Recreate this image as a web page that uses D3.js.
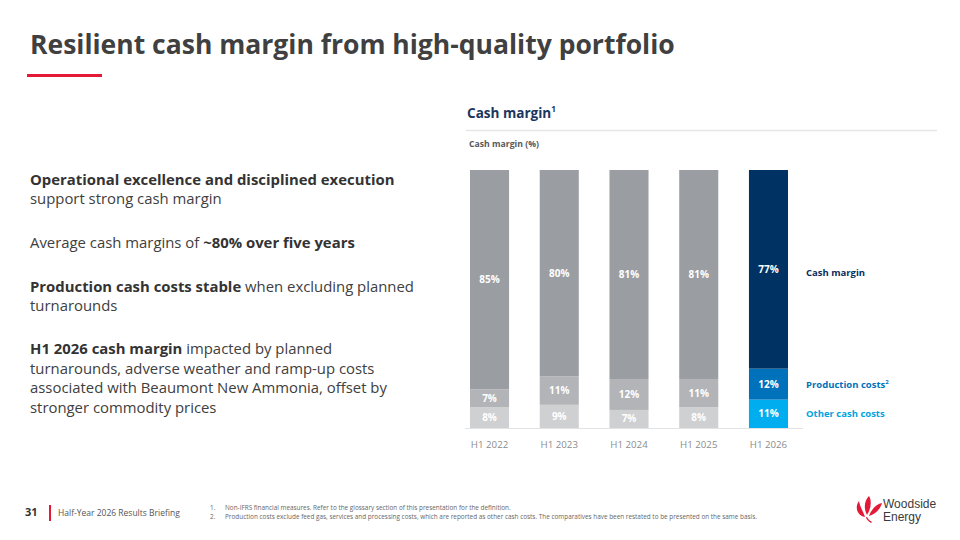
<!DOCTYPE html>
<html><head><meta charset="utf-8">
<script src="https://cdn.jsdelivr.net/npm/d3@7"></script>
<style>
html,body{margin:0;padding:0;background:#fff;}
svg{display:block;font-family:"Open Sans","Noto Sans",sans-serif;}
</style></head>
<body>
<svg id="c" width="960" height="540"></svg>
<script>
// ---- data ----
const categories = ["H1 2022","H1 2023","H1 2024","H1 2025","H1 2026"];
const cashMargin = [85,80,81,81,77];
const productionCosts = [7,11,12,11,12];
const otherCashCosts = [8,9,7,8,11];
const seriesNames = ["Other cash costs","Production costs","Cash margin"];
const greyColors = ["#cfd0d2","#b2b4b7","#9a9da1"];
const highlightColors = ["#00adee","#0071bb","#003263"];
const highlightCategory = "H1 2026";

const svg = d3.select("#c");

function fitText(sel, target){
  sel.each(function(){
    const w = this.getComputedTextLength();
    if(w>0){
      const x = +this.getAttribute("x") || 0;
      const k = target / w;
      this.setAttribute("transform", `translate(${x},0) scale(${k},1) translate(${-x},0)`);
    }
  });
}
function fitSize(sel, target){
  sel.each(function(){
    const w = this.getComputedTextLength();
    const fs = parseFloat(this.getAttribute("font-size"));
    if(w>0) this.setAttribute("font-size", fs*target/w);
  });
}

// ---- title ----
svg.append("text").attr("x",30).attr("y",54)
  .attr("font-size",27).attr("font-weight",700).attr("fill","#404040")
  .text("Resilient cash margin from high-quality portfolio")
  .call(fitText, 645);
svg.append("rect").attr("x",27).attr("y",74).attr("width",75).attr("height",3).attr("fill","#e31937");

// ---- left text ----
const probeB = svg.append("text").attr("font-size",17).attr("font-weight",700).text("Operational excellence and disciplined execution");
const probeR = svg.append("text").attr("font-size",17).attr("font-weight",400).text("associated with Beaumont New Ammonia, offset by");
const bodySize = 0.5*(17*362/probeB.node().getComputedTextLength() + 17*360/probeR.node().getComputedTextLength());
probeB.remove(); probeR.remove();

const paragraphs = [
  [{y:185, parts:[["Operational excellence and disciplined execution",true]]},
   {y:204, parts:[["support strong cash margin",false]]}],
  [{y:248, parts:[["Average cash margins of ",false],["~80% over five years",true]]}],
  [{y:292, parts:[["Production cash costs stable",true],[" when excluding planned",false]]},
   {y:311, parts:[["turnarounds",false]]}],
  [{y:354, parts:[["H1 2026 cash margin",true],[" impacted by planned",false]]},
   {y:374, parts:[["turnarounds, adverse weather and ramp-up costs",false]]},
   {y:393, parts:[["associated with Beaumont New Ammonia, offset by",false]]},
   {y:413, parts:[["stronger commodity prices",false]]}]
];
paragraphs.forEach(p=>{
  const t = svg.append("text").attr("font-size",bodySize).attr("fill","#404040");
  p.forEach(l=>{
    const ln = t.append("tspan").attr("x",30).attr("y",l.y);
    l.parts.forEach(pt=>{
      ln.append("tspan").attr("font-weight",pt[1]?700:400).attr("fill",pt[1]?"#333333":"#404040").text(pt[0]);
    });
  });
});

// ---- chart header ----
const hdr = svg.append("text").attr("x",467).attr("y",118).attr("font-size",15).attr("font-weight",700).attr("fill","#1b365d");
hdr.append("tspan").text("Cash margin");
hdr.append("tspan").attr("font-size",9).attr("dy",-6).text("1");
hdr.call(fitText, 89);
svg.append("line").attr("x1",466).attr("x2",937).attr("y1",130.5).attr("y2",130.5).attr("stroke","#e6e6e6").attr("stroke-width",1.5);
svg.append("text").attr("x",469).attr("y",147).attr("font-size",9.5).attr("font-weight",700).attr("fill","#595959")
  .text("Cash margin (%)").call(fitSize, 70);

// ---- chart ----
const x = d3.scaleBand().domain(categories).range([470,788]).paddingInner(0.44).paddingOuter(0);
const y = d3.scaleLinear().domain([0,100]).range([428,170]);

const table = categories.map((c,i)=>({cat:c, "Other cash costs":otherCashCosts[i], "Production costs":productionCosts[i], "Cash margin":cashMargin[i]}));
const stack = d3.stack().keys(seriesNames)(table);

const g = svg.append("g");
stack.forEach((layer,li)=>{
  layer.forEach(d=>{
    const c = d.data.cat;
    const col = c===highlightCategory ? highlightColors[li] : greyColors[li];
    g.append("rect").attr("x",x(c)).attr("width",x.bandwidth())
      .attr("y",y(d[1])).attr("height",y(d[0])-y(d[1])).attr("fill",col);
    g.append("text").attr("x",x(c)+x.bandwidth()/2).attr("y",(y(d[0])+y(d[1]))/2+3.5)
      .attr("text-anchor","middle").attr("font-size",10).attr("font-weight",700).attr("fill","#ffffff")
      .text((d[1]-d[0])+"%");
  });
});

// axis
svg.append("line").attr("x1",465).attr("x2",803).attr("y1",428.5).attr("y2",428.5).attr("stroke","#e3e3e3").attr("stroke-width",1.2);
const ax = svg.append("g").attr("transform","translate(0,432)")
  .call(d3.axisBottom(x).tickSize(0).tickPadding(9));
ax.select(".domain").remove();
ax.selectAll("text").attr("font-size",9.7).attr("fill","#8c8c8c").attr("font-family","'Open Sans','Noto Sans',sans-serif");

// legend (aligned to last bar segments)
const lastLayerPos = stack.map(layer=>{ const d = layer[layer.length-1]; return (y(d[0])+y(d[1]))/2; });
const legendColors = ["#00a3e0","#0071bb","#0b2d5e"];
const legendLabels = ["Other cash costs","Production costs","Cash margin"];
legendLabels.forEach((lab,i)=>{
  const t = svg.append("text").attr("x",806).attr("y",lastLayerPos[i]+ (i===2?7:3.5))
    .attr("font-size",9.5).attr("font-weight",700).attr("fill",legendColors[i]);
  t.append("tspan").text(lab);
  if(i===1) t.append("tspan").attr("font-size",6).attr("dy",-4).text("2");
});

// ---- footer ----
svg.append("text").attr("x",25).attr("y",516).attr("font-size",11).attr("font-weight",700).attr("fill","#333").text("31");
svg.append("rect").attr("x",49).attr("y",505).attr("width",2).attr("height",16).attr("fill","#e31937");
svg.append("text").attr("x",58).attr("y",516).attr("font-size",11.5).attr("fill","#555").text("Half-Year 2026 Results Briefing").call(fitSize,122);
const fn = [
  {n:"1.", y:509.5, t:"Non-IFRS financial measures. Refer to the glossary section of this presentation for the definition."},
  {n:"2.", y:518.5, t:"Production costs exclude feed gas, services and processing costs, which are reported as other cash costs. The comparatives have been restated to be presented on the same basis."}
];
const fnt = svg.append("text").attr("font-size",6.4).attr("fill","#666");
fn.forEach(f=>{
  fnt.append("tspan").attr("x",210).attr("y",f.y).text(f.n);
  fnt.append("tspan").attr("x",225).attr("y",f.y).text(f.t);
});

// logo
const lg = svg.append("g").attr("transform","translate(868,509)").attr("fill","#e31937");
lg.append("path").attr("d","M-3,8 C-12,6 -13,-3 -9,-8 C-8,-2 -5,2 -3,8 Z");
lg.append("path").attr("d","M-1,6 C-5,-2 -3,-9 1,-13 C4,-8 3,0 -1,6 Z");
lg.append("path").attr("d","M1,7 C4,-1 9,-5 14,-6 C12,1 7,5 1,7 Z");
lg.append("path").attr("d","M-1,8 C0,10 2,12 4,13 L3,14 C0,12 -2,10 -2,8 Z");
const logoT = svg.append("text").attr("font-size",12).attr("fill","#3a3a3a").attr("font-family","'Liberation Sans',Arial,sans-serif");
logoT.append("tspan").attr("x",883).attr("y",508).text("Woodside");
logoT.append("tspan").attr("x",883).attr("y",521).text("Energy");
</script>
</body></html>
